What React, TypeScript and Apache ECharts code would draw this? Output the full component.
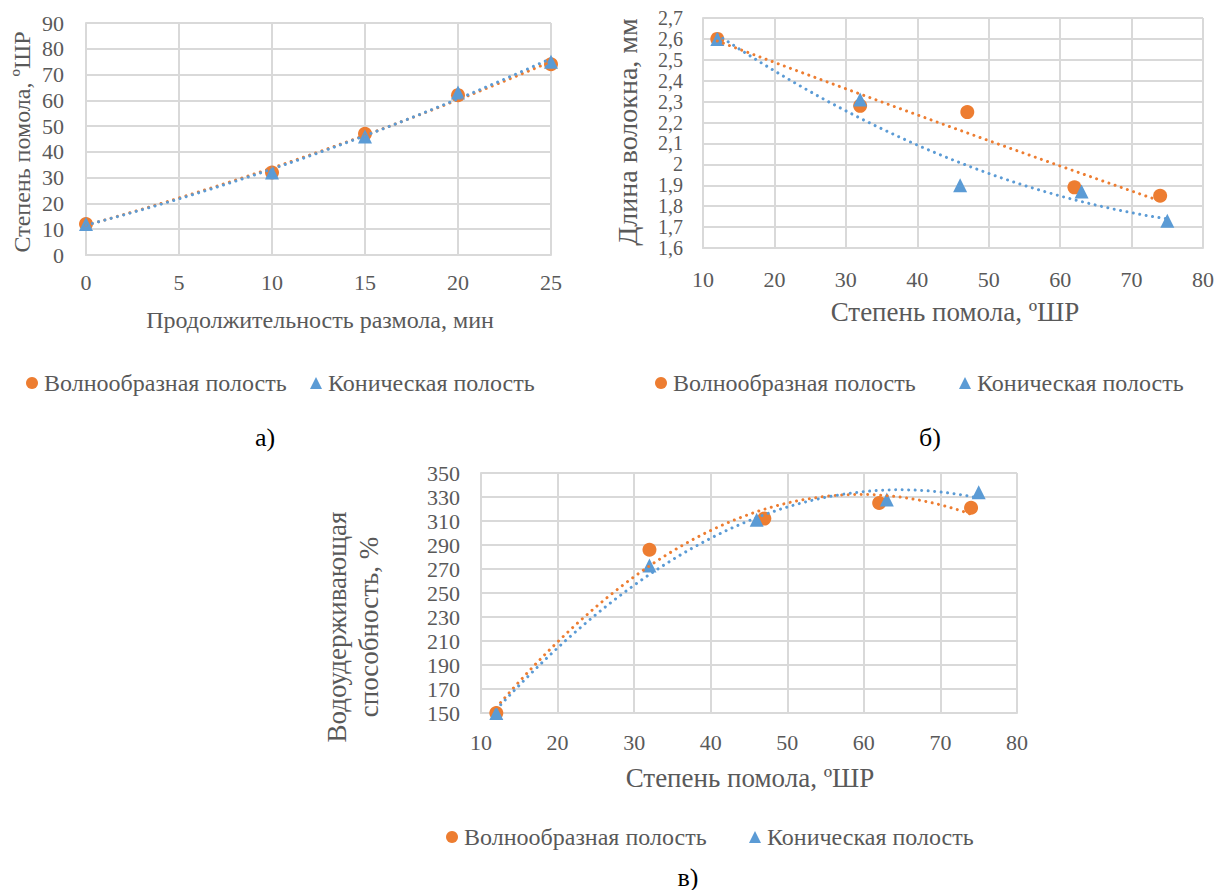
import React, { useEffect, useRef } from "react";
import * as echarts from "echarts";

// ---------- data ----------
const NAME_O = "Волнообразная полость";
const NAME_B = "Коническая полость";

// chart а) grinding time (min) -> freeness (°ШР)
const aXOrange = [0, 10, 15, 20, 25];
const aYOrange = [12, 32, 47, 62, 74];
const aXBlue = [0, 10, 15, 20, 25];
const aYBlue = [12, 32, 46, 63, 75];

// chart б) freeness -> fibre length (mm)
const bXOrange = [12, 32, 47, 62, 74];
const bYOrange = [2.6, 2.28, 2.25, 1.89, 1.85];
const bXBlue = [12, 32, 46, 63, 75];
const bYBlue = [2.6, 2.31, 1.9, 1.87, 1.73];

// chart в) freeness -> water retention (%)
const cXOrange = [12, 32, 47, 62, 74];
const cYOrange = [150, 286, 312, 325, 321];
const cXBlue = [12, 32, 46, 63, 75];
const cYBlue = [150, 273, 311, 328, 334];

const aXName = "Продолжительность размола, мин";
const aYName = "Степень помола, ºШР";
const bXName = "Степень помола, ºШР";
const bYName = "Длина волокна, мм";
const cXName = "Степень помола, ºШР";
const cYName1 = "Водоудерживающая";
const cYName2 = "способность, %";
const panelLabels = ["а)", "б)", "в)"];

// ---------- helpers ----------
const FONT = "Liberation Serif, Times New Roman, serif";
const TXT = "#595959";
const ORANGE = "#ED7D31";
const BLUE = "#5B9BD5";
const GRID = "#D9D9D9";

function polyfit2(xs: number[], ys: number[]) {
  // least squares y = c0 + c1 x + c2 x^2 (as an Excel polynomial trendline)
  const S = [0, 0, 0, 0, 0];
  const T = [0, 0, 0];
  for (let i = 0; i < xs.length; i++) {
    let p = 1;
    for (let k = 0; k < 5; k++) {
      S[k] += p;
      if (k < 3) T[k] += p * ys[i];
      p *= xs[i];
    }
  }
  const M = [
    [S[0], S[1], S[2], T[0]],
    [S[1], S[2], S[3], T[1]],
    [S[2], S[3], S[4], T[2]],
  ];
  for (let c = 0; c < 3; c++) {
    let piv = c;
    for (let r = c + 1; r < 3; r++) if (Math.abs(M[r][c]) > Math.abs(M[piv][c])) piv = r;
    [M[c], M[piv]] = [M[piv], M[c]];
    for (let r = 0; r < 3; r++) {
      if (r === c) continue;
      const f = M[r][c] / M[c][c];
      for (let k = c; k < 4; k++) M[r][k] -= f * M[c][k];
    }
  }
  return [M[0][3] / M[0][0], M[1][3] / M[1][1], M[2][3] / M[2][2]];
}

function trend(xs: number[], ys: number[]) {
  const [c0, c1, c2] = polyfit2(xs, ys);
  const x0 = Math.min(...xs);
  const x1 = Math.max(...xs);
  const n = 80;
  const out: number[][] = [];
  for (let i = 0; i <= n; i++) {
    const x = x0 + ((x1 - x0) * i) / n;
    out.push([x, c0 + c1 * x + c2 * x * x]);
  }
  return out;
}

const zip = (xs: number[], ys: number[]) => xs.map((x, i) => [x, ys[i]]);

const axisLabel = (margin: number, fontSize = 22, formatter?: any) => ({
  color: TXT,
  fontFamily: FONT,
  fontSize,
  margin,
  formatter,
  showMinLabel: true,
  showMaxLabel: true,
  hideOverlap: false,
});

const valueAxisCommon = {
  type: "value" as const,
  axisLine: { show: true, lineStyle: { color: GRID, width: 2 } },
  axisTick: { show: false },
  splitLine: { show: true, lineStyle: { color: GRID, width: 2 } },
};

const commaFmt = (v: number) => String(Math.round(v * 10) / 10).replace(".", ",");

function scatter(name: string, data: number[][], idx: number, isBlue: boolean) {
  return {
    type: "scatter",
    name,
    xAxisIndex: idx,
    yAxisIndex: idx,
    data,
    symbol: isBlue ? "triangle" : "circle",
    symbolSize: 14,
    itemStyle: { color: isBlue ? BLUE : ORANGE, opacity: 1 },
    z: isBlue ? 3 : 2,
  };
}

function trendLine(id: string, data: number[][], idx: number, color: string) {
  return {
    type: "line",
    name: id,
    xAxisIndex: idx,
    yAxisIndex: idx,
    data,
    showSymbol: false,
    symbol: "none",
    smooth: false,
    lineStyle: { color, width: 3, type: [0.01, 6.5], cap: "round" },
    z: 4,
    silent: true,
  };
}

function legendItem(name: string, icon: string, left: number, cy: number, color: string) {
  return {
    data: [{ name, icon, itemStyle: { color } }],
    left,
    top: cy - 12,
    padding: 0,
    itemWidth: 12,
    itemHeight: 12,
    itemGap: 0,
    selectedMode: false,
    textStyle: { color: TXT, fontFamily: FONT, fontSize: 24, padding: [0, 0, 0, 1] },
  };
}

function gtext(text: string, x: number, y: number, size: number, rot = 0, fill = TXT) {
  return {
    type: "text",
    x,
    y,
    rotation: rot,
    silent: true,
    style: {
      text,
      fill,
      fontSize: size,
      fontFamily: FONT,
      align: "center",
      verticalAlign: "middle",
    },
  };
}

export default function App() {
  const ref = useRef<HTMLDivElement>(null);

  useEffect(() => {
    document.body.style.margin = "0";
    const chart = echarts.init(ref.current!, null, { renderer: "svg" });
    const option = {
      animation: false,
      backgroundColor: "#ffffff",
      grid: [
        { left: 86, top: 23, width: 465, height: 232 },
        { left: 703, top: 18, width: 501, height: 230 },
        { left: 481, top: 473, width: 536, height: 240 },
      ],
      xAxis: [
        { ...valueAxisCommon, gridIndex: 0, min: 0, max: 25, interval: 5, axisLabel: axisLabel(16) },
        { ...valueAxisCommon, gridIndex: 1, min: 10, max: 80, interval: 10, axisLabel: axisLabel(20) },
        { ...valueAxisCommon, gridIndex: 2, min: 10, max: 80, interval: 10, axisLabel: axisLabel(18) },
      ],
      yAxis: [
        { ...valueAxisCommon, gridIndex: 0, min: 0, max: 90, interval: 10, axisLabel: axisLabel(22) },
        {
          ...valueAxisCommon,
          gridIndex: 1,
          min: 1.6,
          max: 2.7,
          interval: 0.1,
          axisLabel: axisLabel(20, 20, commaFmt),
        },
        { ...valueAxisCommon, gridIndex: 2, min: 150, max: 350, interval: 20, axisLabel: axisLabel(21) },
      ],
      legend: [
        legendItem(NAME_O, "circle", 26, 383, ORANGE),
        legendItem(NAME_B, "triangle", 310, 383, BLUE),
        legendItem(NAME_O, "circle", 655, 383, ORANGE),
        legendItem(NAME_B, "triangle", 959, 383, BLUE),
        legendItem(NAME_O, "circle", 446, 837, ORANGE),
        legendItem(NAME_B, "triangle", 749, 837, BLUE),
      ],
      series: [
        scatter(NAME_O, zip(aXOrange, aYOrange), 0, false),
        scatter(NAME_B, zip(aXBlue, aYBlue), 0, true),
        trendLine("trend-a-o", trend(aXOrange, aYOrange), 0, ORANGE),
        trendLine("trend-a-b", trend(aXBlue, aYBlue), 0, BLUE),

        scatter(NAME_O, zip(bXOrange, bYOrange), 1, false),
        scatter(NAME_B, zip(bXBlue, bYBlue), 1, true),
        trendLine("trend-b-o", trend(bXOrange, bYOrange), 1, ORANGE),
        trendLine("trend-b-b", trend(bXBlue, bYBlue), 1, BLUE),

        scatter(NAME_O, zip(cXOrange, cYOrange), 2, false),
        scatter(NAME_B, zip(cXBlue, cYBlue), 2, true),
        trendLine("trend-c-o", trend(cXOrange, cYOrange), 2, ORANGE),
        trendLine("trend-c-b", trend(cXBlue, cYBlue), 2, BLUE),
      ],
      graphic: [
        gtext(aXName, 320, 320, 24),
        gtext(aYName, 22, 142, 24, Math.PI / 2),
        gtext(bXName, 955, 312, 27),
        gtext(bYName, 627, 132, 28, Math.PI / 2),
        gtext(cXName, 750, 778, 27),
        gtext(cYName1, 337, 627, 27, Math.PI / 2),
        gtext(cYName2, 369, 627, 27, Math.PI / 2),
        gtext(panelLabels[0], 265, 437, 26, 0, "#000000"),
        gtext(panelLabels[1], 930, 437, 26, 0, "#000000"),
        gtext(panelLabels[2], 688, 877, 26, 0, "#000000"),
      ],
    };
    chart.setOption(option as any);
    return () => chart.dispose();
  }, []);

  return <div ref={ref} style={{ width: 1217, height: 890 }} />;
}
